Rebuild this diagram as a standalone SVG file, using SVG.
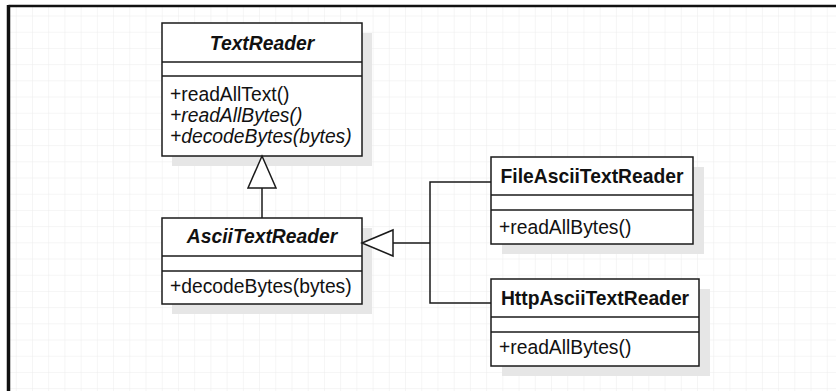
<svg xmlns="http://www.w3.org/2000/svg" width="836" height="391" viewBox="0 0 836 391">
<defs>
<pattern id="grid" x="0.5" y="0.3" width="16.22" height="16.2" patternUnits="userSpaceOnUse">
<path d="M16.22 0 V16.2 M0 16.2 H16.22" fill="none" stroke="#ececec" stroke-width="1"/>
</pattern>
<style>
.box{fill:#ffffff;stroke:#1a1a1a;stroke-width:1.5}
.shadow{fill:#e6e6e6}
.div{stroke:#1a1a1a;stroke-width:1.5}
.title{font-family:"Liberation Sans",Arial,sans-serif;font-size:19.3px;font-weight:bold;fill:#111}
.ital{font-style:italic}
.m{font-family:"Liberation Sans",Arial,sans-serif;font-size:19.3px;fill:#111}
.conn{fill:none;stroke:#1a1a1a;stroke-width:1.5}
.tri{fill:#ffffff;stroke:#1a1a1a;stroke-width:1.5}
</style>
</defs>
<rect x="0" y="0" width="836" height="391" fill="#ffffff"/>
<rect x="9" y="6" width="827" height="385" fill="url(#grid)"/>
<line x1="8.5" y1="6" x2="836" y2="6" stroke="#111" stroke-width="2.5"/>
<line x1="8.5" y1="5" x2="8.5" y2="391" stroke="#111" stroke-width="3.5"/>

<g id="TextReader">
<rect class="shadow" x="172" y="33" width="200" height="133"/>
<rect class="box" x="162" y="23" width="200" height="133"/>
<line class="div" x1="162" y1="62" x2="362" y2="62"/>
<line class="div" x1="162" y1="76" x2="362" y2="76"/>
<text class="title ital" x="262" y="50" text-anchor="middle">TextReader</text>
<text class="m" x="170" y="101">+readAllText()</text>
<text class="m ital" x="170" y="122">+readAllBytes()</text>
<text class="m ital" x="170" y="143">+decodeBytes(bytes)</text>
</g>

<g id="AsciiTextReader">
<rect class="shadow" x="172" y="228" width="200" height="86"/>
<rect class="box" x="162" y="218" width="200" height="86"/>
<line class="div" x1="162" y1="256" x2="362" y2="256"/>
<line class="div" x1="162" y1="271" x2="362" y2="271"/>
<text class="title ital" x="262" y="243" text-anchor="middle">AsciiTextReader</text>
<text class="m" x="170" y="293">+decodeBytes(bytes)</text>
</g>

<g id="FileAsciiTextReader">
<rect class="shadow" x="502" y="167" width="202" height="87"/>
<rect class="box" x="491" y="157" width="202" height="87"/>
<line class="div" x1="491" y1="195" x2="693" y2="195"/>
<line class="div" x1="491" y1="210" x2="693" y2="210"/>
<text class="title" x="592" y="183" text-anchor="middle">FileAsciiTextReader</text>
<text class="m" x="499" y="234">+readAllBytes()</text>
</g>

<g id="HttpAsciiTextReader">
<rect class="shadow" x="502" y="289" width="208" height="87"/>
<rect class="box" x="491" y="279" width="208" height="87"/>
<line class="div" x1="491" y1="317" x2="699" y2="317"/>
<line class="div" x1="491" y1="332" x2="699" y2="332"/>
<text class="title" x="595" y="305" text-anchor="middle">HttpAsciiTextReader</text>
<text class="m" x="499" y="354">+readAllBytes()</text>
</g>

<g id="connectors">
<path class="conn" d="M262 188 V218"/>
<polygon class="tri" points="262,156 276,188 248,188"/>
<path class="conn" d="M393 243 H430 M491 182 H430 V303 H491"/>
<polygon class="tri" points="362,243 393,230 393,256"/>
</g>
</svg>
